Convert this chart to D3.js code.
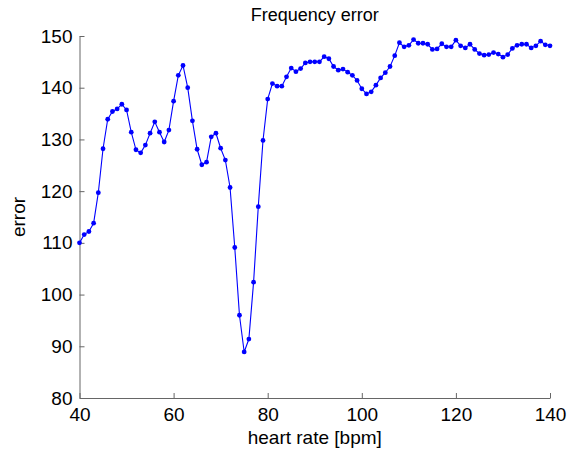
<!DOCTYPE html>
<html>
<head>
<meta charset="utf-8">
<script src="https://cdn.jsdelivr.net/npm/d3@7"></script>
<style>
  body { margin: 0; background: #fff; }
  svg { display: block; font-family: "Liberation Sans", Arial, sans-serif; }
  .axis path, .axis line { stroke: #666; }
  .axis text { fill: #000; font-size: 19px; font-family: "Liberation Sans", Arial, sans-serif; }
</style>
</head>
<body>
<div id="chart"></div>
<script>
// heart rate 40..140 bpm, one point per bpm
const bpm = d3.range(40, 141);
const errorValues = [
  110.0, 111.6, 112.2, 113.8, 119.7, 128.2, 133.9, 135.4, 135.9, 136.8,
  135.7, 131.4, 128.0, 127.4, 128.9, 131.2, 133.4, 131.4, 129.5, 131.8,
  137.4, 142.4, 144.3, 140.0, 133.6, 128.1, 125.1, 125.6, 130.5, 131.2,
  128.3, 126.0, 120.7, 109.1, 96.0, 88.9, 91.4, 102.4, 117.0, 129.8,
  137.8, 140.8, 140.3, 140.3, 142.1, 143.8, 143.1, 143.7, 144.8, 145.0,
  145.0, 145.0, 146.0, 145.6, 144.1, 143.4, 143.6, 143.0, 142.4, 141.4,
  139.8, 138.8, 139.2, 140.5, 141.9, 142.9, 144.1, 146.2, 148.7, 147.9,
  148.2, 149.3, 148.6, 148.6, 148.4, 147.4, 147.5, 148.5, 147.9, 147.9,
  149.2, 148.1, 147.7, 148.4, 147.4, 146.6, 146.3, 146.4, 146.8, 146.5,
  145.9, 146.4, 147.6, 148.2, 148.4, 148.4, 147.7, 148.1, 149.0, 148.3,
  148.1
];
const xTicks = [40, 60, 80, 100, 120, 140];
const yTicks = [80, 90, 100, 110, 120, 130, 140, 150];
const data = bpm.map((b, i) => ({ x: b, y: errorValues[i] }));

const width = 573, height = 452;
const margin = { top: 36, right: 23, bottom: 54, left: 79.5 };

const svg = d3.select("#chart").append("svg")
  .attr("width", width)
  .attr("height", height);

const x = d3.scaleLinear().domain([40, 140]).range([margin.left, width - margin.right]);
const y = d3.scaleLinear().domain([80, 150]).range([height - margin.bottom, margin.top]);

// axes (box off, ticks pointing in)
svg.append("g")
  .attr("class", "axis")
  .attr("transform", `translate(0,${height - margin.bottom})`)
  .call(d3.axisBottom(x).tickValues(xTicks).tickSizeInner(-5).tickSizeOuter(0).tickPadding(8))
  .call(g => g.selectAll("text").attr("dy", "0.78em"));

svg.append("g")
  .attr("class", "axis")
  .attr("transform", `translate(${margin.left},0)`)
  .call(d3.axisLeft(y).tickValues(yTicks).tickSizeInner(-5).tickSizeOuter(0).tickPadding(7));

// line + markers
svg.append("path")
  .datum(data)
  .attr("fill", "none")
  .attr("stroke", "#0000ff")
  .attr("stroke-width", 1.1)
  .attr("d", d3.line().x(d => x(d.x)).y(d => y(d.y)));

svg.append("g")
  .selectAll("circle")
  .data(data)
  .join("circle")
  .attr("cx", d => x(d.x))
  .attr("cy", d => y(d.y))
  .attr("r", 2.4)
  .attr("fill", "#0000ff");

// labels
svg.append("text")
  .attr("x", (x(40) + x(140)) / 2)
  .attr("y", 21)
  .attr("text-anchor", "middle")
  .attr("font-size", 18)
  .text("Frequency error");

svg.append("text")
  .attr("x", (x(40) + x(140)) / 2)
  .attr("y", 444)
  .attr("text-anchor", "middle")
  .attr("font-size", 19)
  .text("heart rate [bpm]");

svg.append("text")
  .attr("transform", `translate(25,${(y(80) + y(150)) / 2}) rotate(-90)`)
  .attr("text-anchor", "middle")
  .attr("font-size", 19)
  .text("error");
</script>
</body>
</html>
